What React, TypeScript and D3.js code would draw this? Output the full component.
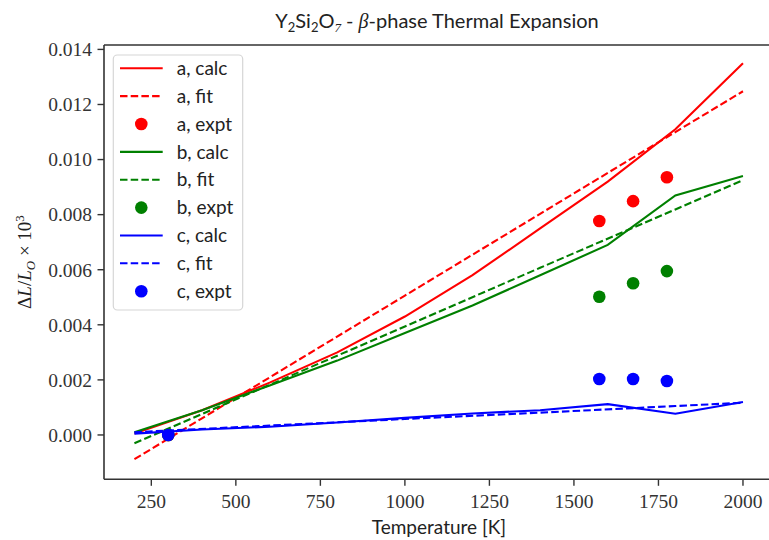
import React from 'react';
import * as d3 from 'd3';

const W = 769;
const H = 540;

// calculated curves
const calcTemps = [200, 400, 600, 800, 1000, 1200, 1400, 1600, 1800, 2000];
const aCalc = [0.00005, 0.0009, 0.0019, 0.003, 0.0043, 0.0058, 0.0075, 0.0092, 0.0111, 0.0135];
const bCalc = [0.0001, 0.0009, 0.0018, 0.0027, 0.0037, 0.0047, 0.0058, 0.0069, 0.0087, 0.0094];
const cCalc = [0.00005, 0.0002, 0.0003, 0.00045, 0.00062, 0.00078, 0.0009, 0.00112, 0.00077, 0.0012];

// fits
const fitTemps = [200, 600, 1000, 1400, 1800, 2000];
const aFit = [-0.00088, 0.00209, 0.00506, 0.00803, 0.011, 0.01248];
const bFit = [-0.0003, 0.00182, 0.00394, 0.00607, 0.00819, 0.00925];
const cFit = [0.0001, 0.00034, 0.00058, 0.00081, 0.00105, 0.00117];

// experiment
const exptTemps = [300, 1575, 1675, 1775];
const aExpt = [0, 0.00777, 0.00849, 0.00936];
const bExpt = [0, 0.00502, 0.00551, 0.00595];
const cExpt = [0, 0.00203, 0.00203, 0.00196];

const xTicks = [250, 500, 750, 1000, 1250, 1500, 1750, 2000];
const yTicks = [0, 0.002, 0.004, 0.006, 0.008, 0.01, 0.012, 0.014];

const series = [
  { label: 'a', color: '#ff0000', calc: aCalc, fit: aFit, expt: aExpt },
  { label: 'b', color: '#008000', calc: bCalc, fit: bFit, expt: bExpt },
  { label: 'c', color: '#0000ff', calc: cCalc, fit: cFit, expt: cExpt },
];

const serif = '"Liberation Serif", "DejaVu Serif", serif';
const sans = 'Lato, "DejaVu Sans", sans-serif';
const DASH = '7.5,3.2';

export default function App() {
  const x = d3.scaleLinear().domain([110, 2090]).range([104, 773.4]);
  const y = d3.scaleLinear().domain([-0.00161, 0.01416]).range([479.3, 45]);

  const line = (ts: number[]) =>
    d3.line<number>().x((_, i) => x(ts[i])).y((d) => y(d));

  const legendRows: { name: string; color: string; kind: string }[] = [];
  series.forEach((s) => {
    legendRows.push({ name: `${s.label}, calc`, color: s.color, kind: 'calc' });
    legendRows.push({ name: `${s.label}, fit`, color: s.color, kind: 'fit' });
    legendRows.push({ name: `${s.label}, expt`, color: s.color, kind: 'expt' });
  });

  const left = x.range()[0];
  const right = x.range()[1];
  const top = y.range()[1];
  const bottom = y.range()[0];

  return (
    <svg width={W} height={H} style={{ position: 'absolute', left: 0, top: 0, background: '#fff' }}>
      <text x={437} y={28} textAnchor="middle" fontFamily={sans} fontSize={20} fill="#222">
        Y<tspan fontSize={13} dy={4}>2</tspan>
        <tspan dy={-4}>Si</tspan>
        <tspan fontSize={13} dy={4}>2</tspan>
        <tspan dy={-4}>O</tspan>
        <tspan fontSize={13} dy={4} fontFamily={serif} fontStyle="italic">7</tspan>
        <tspan dy={-4}> - </tspan>
        <tspan fontFamily={serif} fontStyle="italic">β</tspan>
        <tspan>-phase Thermal Expansion</tspan>
      </text>

      <g>
        {series.map((s) => (
          <g key={s.label}>
            <path d={line(calcTemps)(s.calc) || ''} fill="none" stroke={s.color} strokeWidth={2.1} />
            <path d={line(fitTemps)(s.fit) || ''} fill="none" stroke={s.color} strokeWidth={2.1} strokeDasharray={DASH} />
            {s.expt.map((v, i) => (
              <circle key={i} cx={x(exptTemps[i])} cy={y(v)} r={6.3} fill={s.color} />
            ))}
          </g>
        ))}
      </g>

      {/* spines */}
      <g stroke="#333" strokeWidth={1.6} fill="none">
        <line x1={left} x2={left} y1={top} y2={bottom} />
        <line x1={left} x2={right} y1={bottom} y2={bottom} />
        <line x1={left} x2={right} y1={top} y2={top} />
        <line x1={right} x2={right} y1={top} y2={bottom} />
      </g>

      {/* x axis */}
      <g>
        {xTicks.map((t) => (
          <g key={t} transform={`translate(${x(t)},${bottom})`}>
            <line y1={0} y2={6.5} stroke="#333" strokeWidth={1.4} />
            <text y={29} textAnchor="middle" fontFamily={serif} fontSize={19.5} fill="#333">{t}</text>
          </g>
        ))}
        <text x={439} y={534} textAnchor="middle" fontFamily={sans} fontSize={19} fill="#222">Temperature [K]</text>
      </g>

      {/* y axis */}
      <g>
        {yTicks.map((t) => (
          <g key={t} transform={`translate(${left},${y(t)})`}>
            <line x1={0} x2={-6.5} stroke="#333" strokeWidth={1.4} />
            <text x={-12} dy="0.35em" textAnchor="end" fontFamily={serif} fontSize={19.5} fill="#333">{d3.format('.3f')(t)}</text>
          </g>
        ))}
        <text transform="translate(31,262) rotate(-90)" textAnchor="middle" fontFamily={serif} fontSize={19} fill="#222">
          Δ<tspan fontStyle="italic">L</tspan>/<tspan fontStyle="italic">L</tspan>
          <tspan fontSize={13} dy={4} fontStyle="italic">O</tspan>
          <tspan dy={-4}> × 10</tspan>
          <tspan fontSize={13} dy={-7}>3</tspan>
        </text>
      </g>

      {/* legend */}
      <g>
        <rect x={113.3} y={55} width={129.4} height={255} rx={4} fill="#fff" fillOpacity={0.8} stroke="#d6d6d6" strokeWidth={1.2} />
        {legendRows.map((r, i) => {
          const ry = 68.3 + i * 27.86;
          return (
            <g key={r.name}>
              {r.kind === 'expt' ? (
                <circle cx={141.3} cy={ry} r={6.3} fill={r.color} />
              ) : (
                <line x1={120} x2={162.7} y1={ry} y2={ry} stroke={r.color} strokeWidth={2.1}
                  strokeDasharray={r.kind === 'fit' ? DASH : undefined} />
              )}
              <text x={176.7} y={ry} dy="0.35em" fontFamily={sans} fontSize={19} fill="#222">{r.name}</text>
            </g>
          );
        })}
      </g>
    </svg>
  );
}
